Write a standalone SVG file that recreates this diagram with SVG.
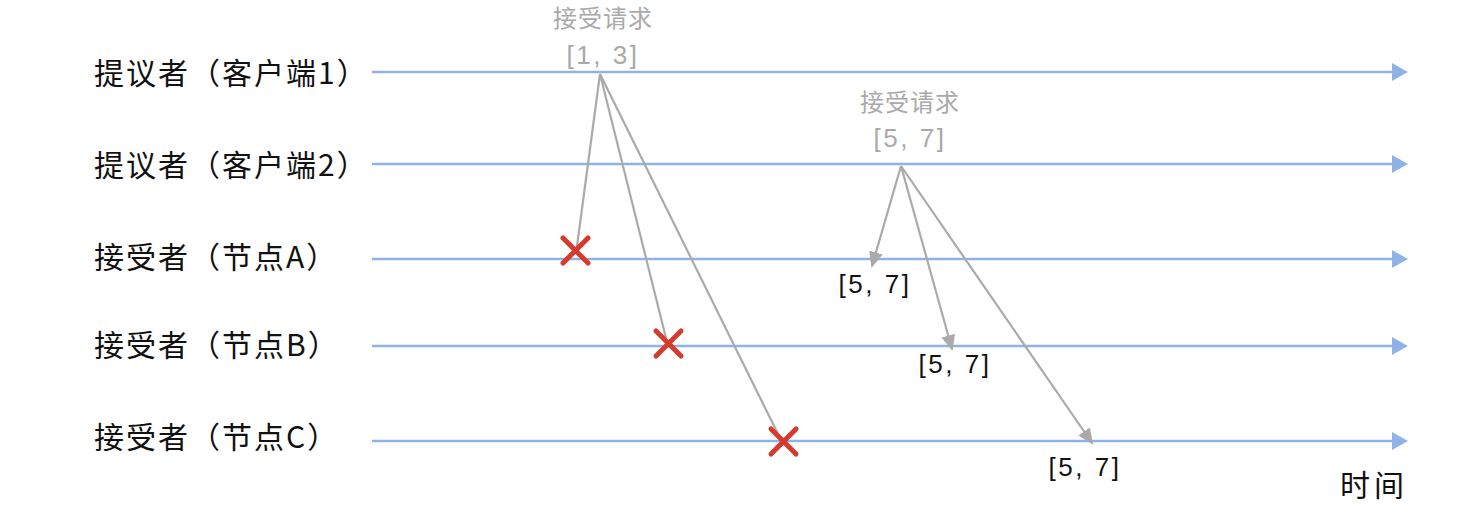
<svg xmlns="http://www.w3.org/2000/svg" width="1462" height="528" viewBox="0 0 1462 528">
<defs>
<style>
.tl{stroke:#8fb3e6;stroke-width:2.5;fill:none}
.lbl{font-family:"Noto Sans CJK SC","Noto Sans",sans-serif;font-size:30px;letter-spacing:2px;fill:#111}
.req{font-family:"Noto Sans CJK SC","Liberation Sans",sans-serif;font-size:24px;letter-spacing:1px;fill:#a9a9a9;text-anchor:middle}
.br{font-family:"Liberation Sans","Noto Sans",sans-serif;font-size:26px;letter-spacing:2.5px;fill:#a9a9a9;text-anchor:middle}
.val{font-family:"Liberation Sans","Noto Sans",sans-serif;font-size:26px;letter-spacing:2.5px;fill:#111;text-anchor:middle}
.msg{stroke:#aaaaaa;stroke-width:2.2;fill:none}
.x{stroke:#d63a2c;stroke-width:5;stroke-linecap:round}
</style>
<marker id="garr" markerWidth="16" markerHeight="16" refX="14" refY="8" orient="auto" markerUnits="userSpaceOnUse" viewBox="0 0 16 16">
<path d="M0,1 L16,8 L0,15 Z" fill="#aaaaaa"/>
</marker>
</defs>
<rect width="1462" height="528" fill="#ffffff"/>

<g id="timeline1">
<line class="tl" x1="372" y1="72" x2="1392" y2="72"/>
<path d="M1392,63 L1408,72 L1392,81 Z" fill="#8fb3e6"/>
<text class="lbl" x="94" y="84">提议者（客户端1）</text>
</g>
<g id="timeline2">
<line class="tl" x1="372" y1="164" x2="1392" y2="164"/>
<path d="M1392,155 L1408,164 L1392,173 Z" fill="#8fb3e6"/>
<text class="lbl" x="94" y="176">提议者（客户端2）</text>
</g>
<g id="timelineA">
<line class="tl" x1="372" y1="259" x2="1392" y2="259"/>
<path d="M1392,250 L1408,259 L1392,268 Z" fill="#8fb3e6"/>
<text class="lbl" x="94" y="268">接受者（节点A）</text>
</g>
<g id="timelineB">
<line class="tl" x1="372" y1="346" x2="1392" y2="346"/>
<path d="M1392,337 L1408,346 L1392,355 Z" fill="#8fb3e6"/>
<text class="lbl" x="94" y="356">接受者（节点B）</text>
</g>
<g id="timelineC">
<line class="tl" x1="372" y1="441" x2="1392" y2="441"/>
<path d="M1392,432 L1408,441 L1392,450 Z" fill="#8fb3e6"/>
<text class="lbl" x="94" y="448">接受者（节点C）</text>
</g>

<g id="request1">
<text class="req" x="603" y="27">接受请求</text>
<text class="br" x="603" y="64">[1, 3]</text>
</g>
<g id="request2">
<text class="req" x="910" y="111">接受请求</text>
<text class="br" x="910" y="147">[5, 7]</text>
</g>

<g id="connectors">
<line class="msg" x1="600" y1="74" x2="577" y2="246"/>
<line class="msg" x1="600" y1="74" x2="666" y2="338"/>
<line class="msg" x1="600" y1="74" x2="779" y2="436"/>
<line class="msg" x1="901" y1="166" x2="872" y2="266" marker-end="url(#garr)"/>
<line class="msg" x1="901" y1="166" x2="952" y2="349" marker-end="url(#garr)"/>
<line class="msg" x1="901" y1="166" x2="1092" y2="443" marker-end="url(#garr)"/>
</g>

<g id="rejectA">
<line class="x" x1="563" y1="238" x2="588" y2="263"/>
<line class="x" x1="588" y1="238" x2="563" y2="263"/>
</g>
<g id="rejectB">
<line class="x" x1="656" y1="331" x2="681" y2="356"/>
<line class="x" x1="681" y1="331" x2="656" y2="356"/>
</g>
<g id="rejectC">
<line class="x" x1="771" y1="429" x2="796" y2="454"/>
<line class="x" x1="796" y1="429" x2="771" y2="454"/>
</g>

<g id="acceptA"><text class="val" x="875" y="293">[5, 7]</text></g>
<g id="acceptB"><text class="val" x="955" y="373">[5, 7]</text></g>
<g id="acceptC"><text class="val" x="1085" y="476">[5, 7]</text></g>

<g id="timeLabel"><text class="lbl" x="1340" y="496" style="letter-spacing:4px">时间</text></g>
</svg>
